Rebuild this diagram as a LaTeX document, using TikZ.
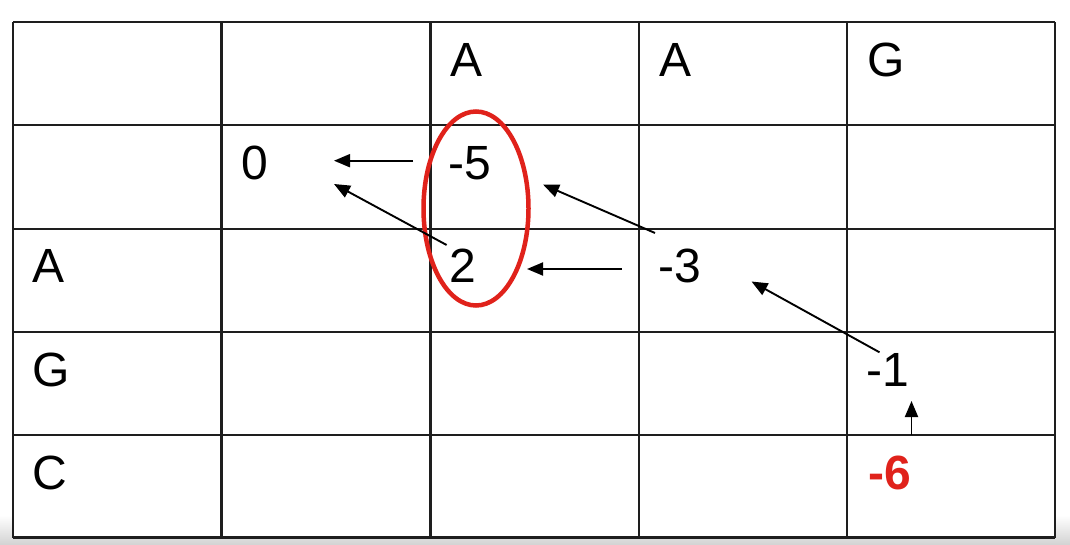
\documentclass[tikz,border=0pt]{standalone}
\usepackage{fontspec}
\setmainfont{Liberation Sans}
\usetikzlibrary{arrows.meta,shapes.geometric}
\definecolor{gridc}{HTML}{1E1E1E}
\definecolor{redc}{HTML}{E0221B}
\begin{document}
\begin{tikzpicture}[x=1pt,y=-1pt,
  gridline/.style={draw=gridc,line width=2.4pt},
  cell/.style={anchor=base west,inner sep=0pt,font=\fontsize{48}{56}\selectfont,text=black},
  arr/.style={draw=black,line width=1.9pt,-{Triangle[length=16pt,width=13pt]}},
  loop/.style={draw=redc,line width=4.5pt,ellipse,minimum width=105pt,minimum height=194pt,inner sep=0pt}]
\useasboundingbox (0,0) rectangle (1070,545);
\fill[white] (0,0) rectangle (1070,545);
\shade[top color=white,bottom color=gray!35] (0,515) rectangle (1070,545);
\fill[white] (13,22) rectangle (1055,537);
% grid
\foreach \x in {13,221.5,430.5,639,847,1055}
  \draw[gridline] (\x,22.3) -- (\x,537.5);
\foreach \y in {22.3,125,229,332,435,537.5}
  \draw[gridline] (13,\y) -- (1055,\y);
% header texts
\node[cell] (hA1) at (450,77) {A};
\node[cell] (hA2) at (659,77) {A};
\node[cell] (hG)  at (867,77) {G};
\node[cell] (rA) at (32,283) {A};
\node[cell] (rG) at (32,386.5) {G};
\node[cell] (rC) at (32,489.5) {C};
% values
\node[cell] (v0)  at (241,180) {0};
\node[cell] (vm5) at (448,180) {-5};
\node[cell] (v2)  at (449,283) {2};
\node[cell] (vm3) at (658,283) {-3};
\node[cell] (vm1) at (866,386.5) {-1};
\node[cell,text=redc,font=\fontsize{48}{56}\selectfont\bfseries] (vm6) at (868,489.5) {-6};
% circle
\node[loop] (ring) at (476,208.5) {};
% arrow endpoints
\coordinate (a1s) at (413,160.7);   \coordinate (a1e) at (334,160.7);
\coordinate (a2s) at (446.6,245);   \coordinate (a2e) at (334,184);
\coordinate (a3s) at (621.7,269);   \coordinate (a3e) at (527,269);
\coordinate (a4s) at (655,233);     \coordinate (a4e) at (543,184.5);
\coordinate (a5s) at (879.5,352.3); \coordinate (a5e) at (751.5,281.5);
\coordinate (a6s) at (911.5,435);   \coordinate (a6e) at (911.5,401);
\draw[arr] (a1s) -- (a1e);
\draw[arr] (a2s) -- (a2e);
\draw[arr] (a3s) -- (a3e);
\draw[arr] (a4s) -- (a4e);
\draw[arr] (a5s) -- (a5e);
\draw[arr] (a6s) -- (a6e);
\end{tikzpicture}
\end{document}
